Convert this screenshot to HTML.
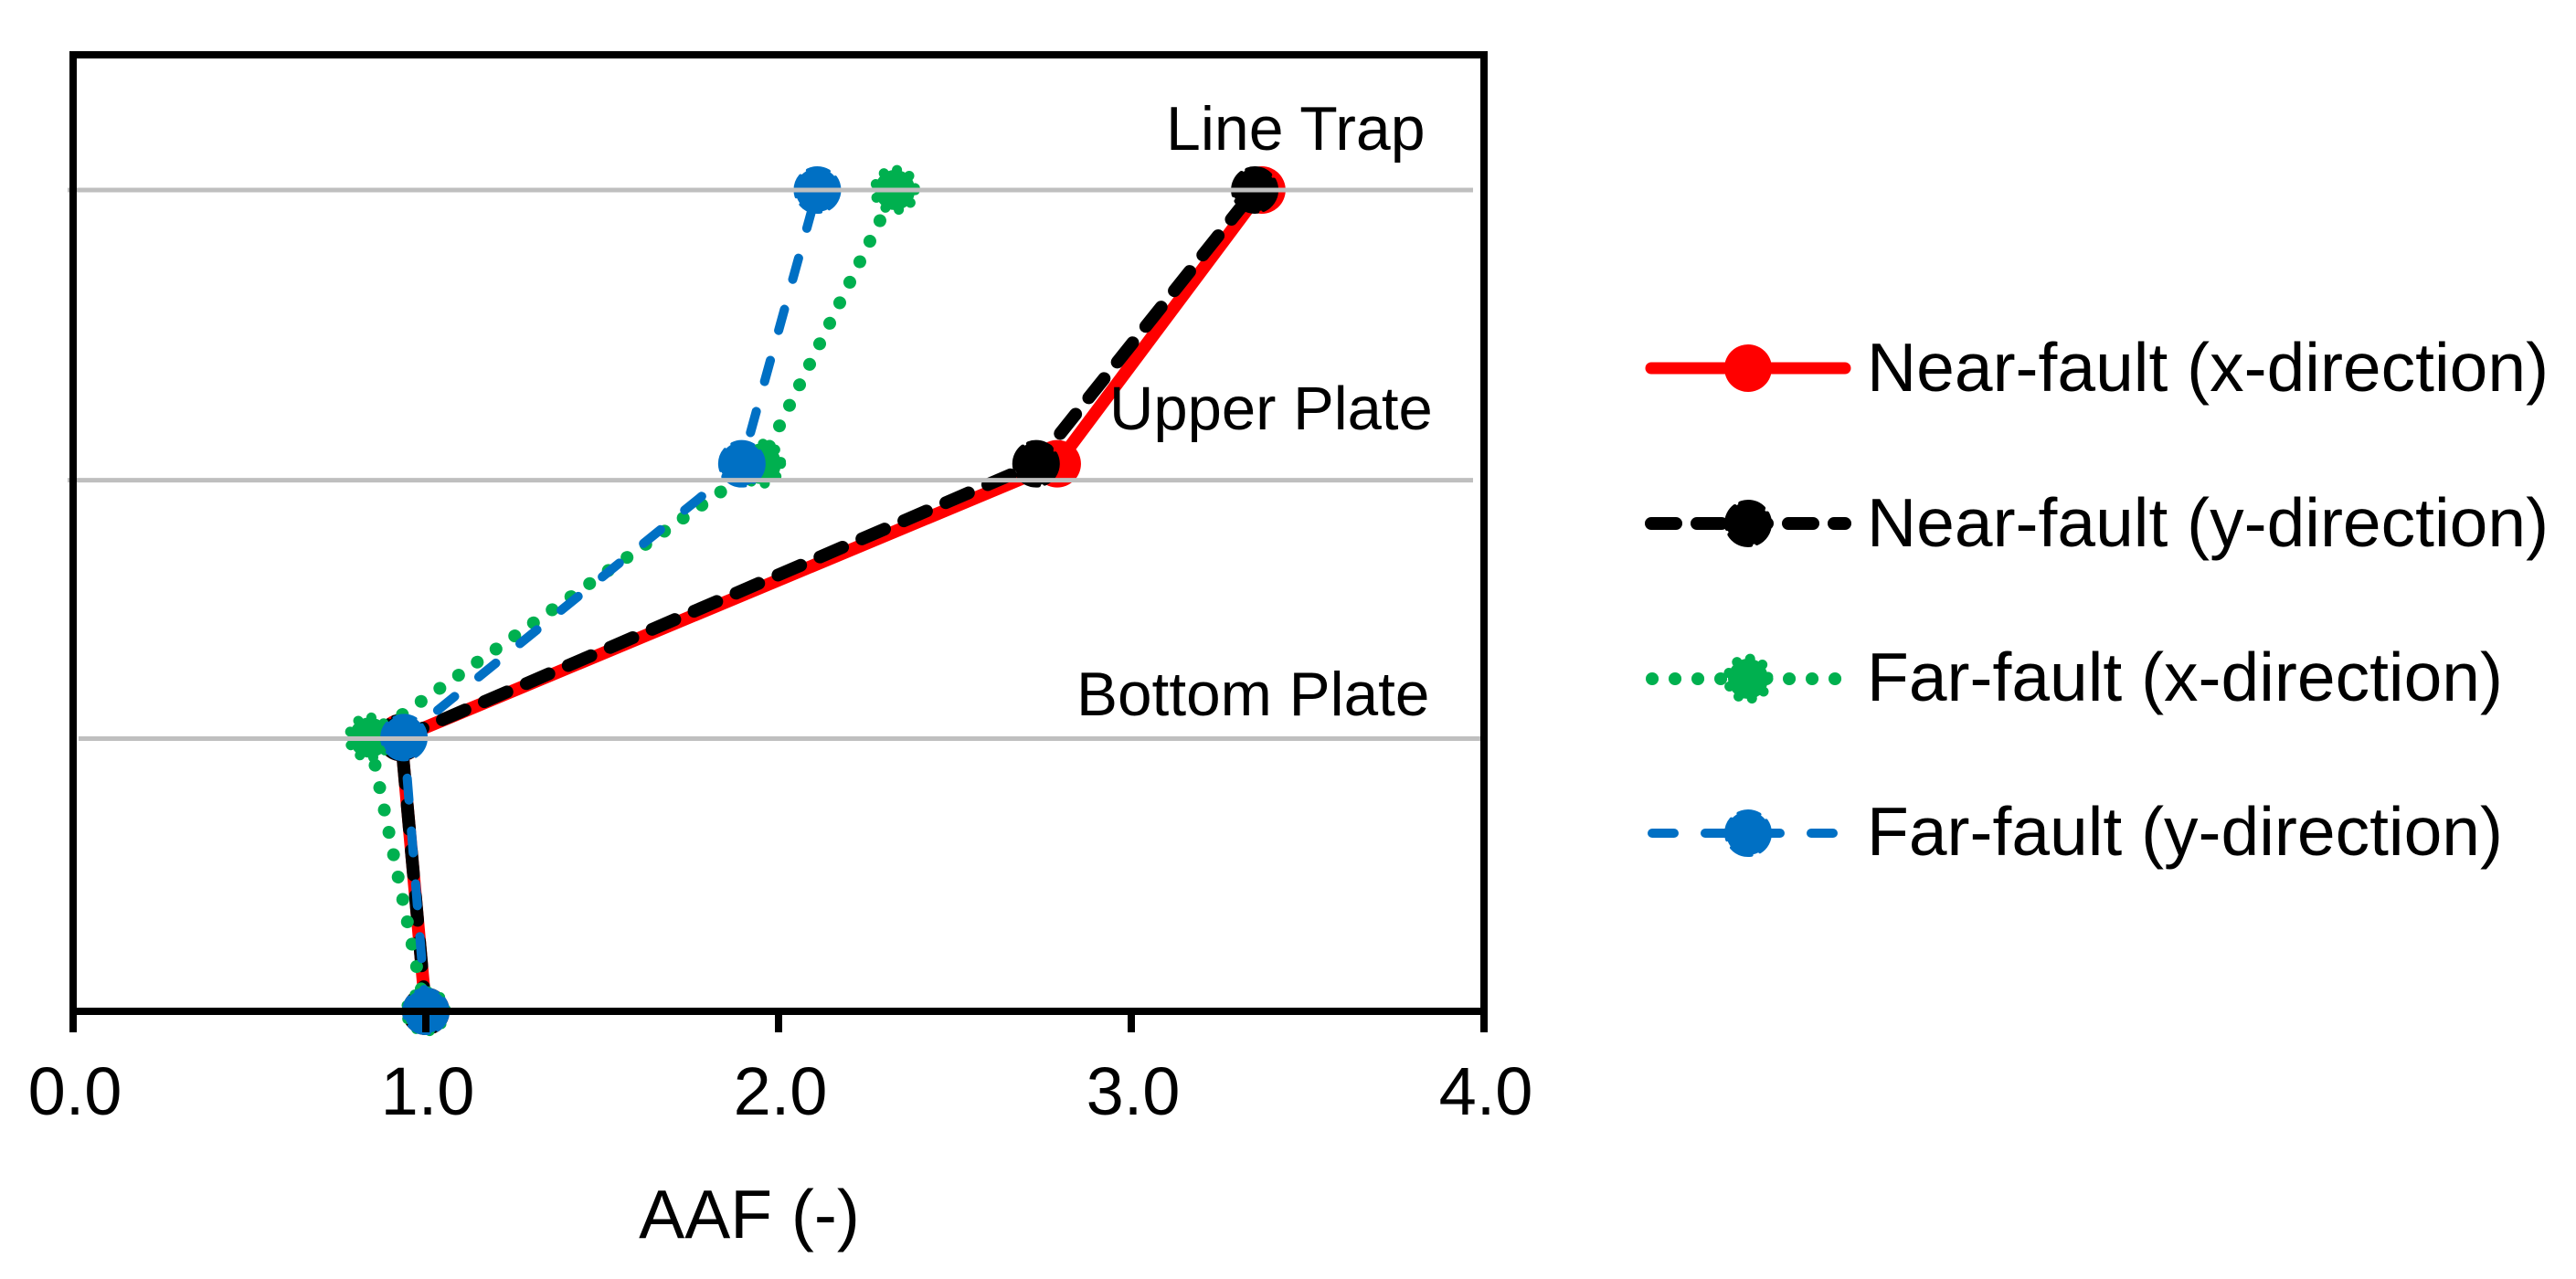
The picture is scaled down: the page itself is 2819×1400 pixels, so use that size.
<!DOCTYPE html>
<html lang="en">
<head>
<meta charset="utf-8">
<title>AAF chart</title>
<style>
html,body{margin:0;padding:0;background:#fff;}
#chart{display:block;position:absolute;left:0;top:0;}
text{font-family:"Liberation Sans",Arial,sans-serif;fill:#000;}
</style>
</head>
<body>
<svg id="chart" width="2819" height="1400" viewBox="0 0 2819 1400" xmlns="http://www.w3.org/2000/svg">
  <g id="series-layer"></g>
  <g id="grid-layer"></g>
  <g id="axis-layer"></g>
  <text x="820" y="1355" font-size="75" text-anchor="middle">AAF (-)</text>
  <text x="1276" y="164" font-size="68">Line Trap</text>
  <text x="1214" y="470" font-size="67">Upper Plate</text>
  <text x="1178" y="783" font-size="67.5">Bottom Plate</text>
  <g id="legend-layer"></g>
</svg>
<script>
var levels = [0, 1, 2, 3];
var gridLevels = [0.996, 1.94, 3];
var nearX = [1.0, 0.93, 2.79, 3.37];
var nearY = [1.0, 0.93, 2.73, 3.35];
var farX = [1.0, 0.84, 1.95, 2.33];
var farY = [1.0, 0.938, 1.896, 2.11];
var xTicks = [0, 1, 2, 3, 4];
var xTickLabels = ['0.0', '1.0', '2.0', '3.0', '4.0'];
var seriesNames = ['Near-fault (x-direction)', 'Near-fault (y-direction)', 'Far-fault (x-direction)', 'Far-fault (y-direction)'];

var NS = 'http://www.w3.org/2000/svg';
function xScale(v) { return 80 + 386 * v; }
function yScale(l) { return 1107 - 299.67 * l; }
function make(tag, attrs, parent) {
  var el = document.createElementNS(NS, tag);
  for (var k in attrs) { el.setAttribute(k, attrs[k]); }
  parent.appendChild(el);
  return el;
}

var styles = [
  { values: nearX, color: '#ff0000', width: 14, dash: '', r: 26, ms: 0, md: '' },
  { values: nearY, color: '#000000', width: 14, dash: '27 23', r: 23.5, ms: 5, md: '27 7' },
  { values: farX, color: '#00b04f', width: 14, dash: '0.1 24.9', r: 22, ms: 11, md: '0.1 15' },
  { values: farY, color: '#0070c4', width: 10, dash: '24 34', r: 24, ms: 4, md: '24 10' }
];

var seriesLayer = document.getElementById('series-layer');
styles.forEach(function (s, i) {
  var g = make('g', {}, seriesLayer);
  
  
  var pts = s.values.map(function (v, j) { return xScale(v) + ',' + yScale(levels[j]); }).join(' ');
  var line = make('polyline', { points: pts, fill: 'none', stroke: s.color, 'stroke-width': s.width, 'stroke-linecap': s.dash ? 'round' : 'butt', 'stroke-linejoin': 'round', 'stroke-dasharray': s.dash }, g);
  
  
  s.values.forEach(function (v, j) {
    var c = make('circle', { cx: xScale(v), cy: yScale(levels[j]), r: s.r, fill: s.color, stroke: s.ms ? s.color : 'none', 'stroke-width': s.ms, 'stroke-dasharray': s.md, 'stroke-linecap': 'round' }, g);
    
    
  });
});

var gridLayer = document.getElementById('grid-layer');
var gridStart = [86, 74, 74];
var gridEnd = [1624, 1612, 1612];
gridLevels.forEach(function (l, i) {
  var gl = make('line', { x1: gridStart[i], x2: gridEnd[i], y1: yScale(l), y2: yScale(l), stroke: '#bfbfbf', 'stroke-width': 5 }, gridLayer);
  
  
});

var axisLayer = document.getElementById('axis-layer');
var frame = make('path', { d: 'M' + xScale(0) + ' 1130V60H' + xScale(4) + 'V1130', fill: 'none', stroke: '#000', 'stroke-width': 8 }, axisLayer);


var base = make('line', { x1: xScale(0), x2: xScale(4), y1: 1107, y2: 1107, stroke: '#000', 'stroke-width': 8 }, axisLayer);


xTicks.forEach(function (t, i) {
  var tick = make('line', { x1: xScale(t), x2: xScale(t), y1: 1107, y2: 1130, stroke: '#000', 'stroke-width': 8 }, axisLayer);
  
  
  var lab = make('text', { x: xScale(t) + 2, y: 1220, 'font-size': 74, 'text-anchor': 'middle' }, axisLayer);
  lab.textContent = xTickLabels[i];
  
  
});

var legendLayer = document.getElementById('legend-layer');
var legendY = [403, 573, 743, 912];
var legendBase = [428, 598, 767, 936];
var legendStart = [1807, 1807, 1808, 1808];
var legendEnd = [2019, 2019, 2025, 2012];
styles.forEach(function (s, i) {
  var g = make('g', {}, legendLayer);
  
  
  var ln = make('line', { x1: legendStart[i], x2: legendEnd[i], y1: legendY[i], y2: legendY[i], stroke: s.color, 'stroke-width': i === 0 ? 13 : s.width, 'stroke-linecap': 'round', 'stroke-dasharray': s.dash }, g);
  
  
  var mk = make('circle', { cx: 1913, cy: legendY[i], r: s.r, fill: s.color, stroke: s.ms ? s.color : 'none', 'stroke-width': s.ms, 'stroke-dasharray': s.md, 'stroke-linecap': 'round' }, g);
  
  
  var tx = make('text', { x: 2043, y: legendBase[i], 'font-size': 75 }, g);
  tx.textContent = seriesNames[i];
  
  
});
</script>
</body>
</html>
